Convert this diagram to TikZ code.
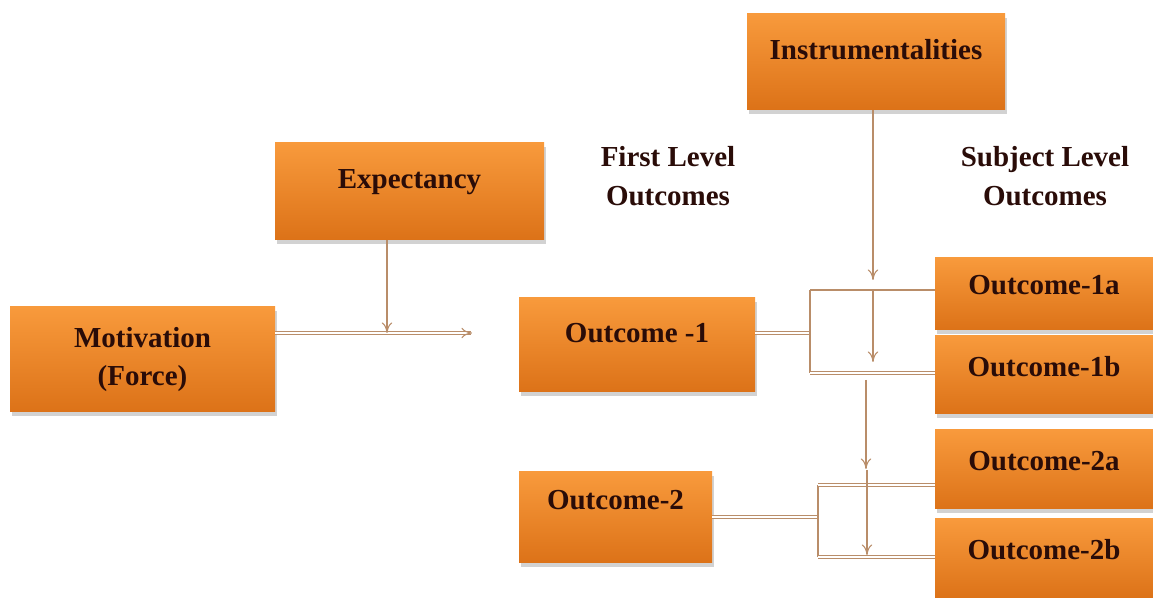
\documentclass[tikz,border=0pt]{standalone}
\usepackage{fontspec}
\setmainfont{Liberation Serif}
\usetikzlibrary{arrows.meta,shadows,calc}
\definecolor{boxtop}{HTML}{F89A3C}
\definecolor{boxbot}{HTML}{DC7218}
\definecolor{linkclr}{HTML}{B98D69}
\definecolor{txtclr}{HTML}{2A0C08}
\begin{document}
\begin{tikzpicture}[
    box/.style={rectangle, top color=boxtop, bottom color=boxbot, draw=none,
        drop shadow={shadow xshift=1pt, shadow yshift=-2pt, opacity=0.35},
        text=txtclr, font=\fontsize{16.5}{22}\selectfont\bfseries, align=center},
    lbl/.style={text=txtclr, font=\fontsize{16.5}{22}\selectfont\bfseries, align=center},
    link/.style={draw=linkclr, line width=0.6pt},
    dlink/.style={draw=linkclr, double=white, double distance=1pt, line width=0.6pt},
    arr/.style={link, -{To[length=6pt,width=6pt]}}]
    \useasboundingbox[fill=white] (0,0) rectangle (23.06,11.96);
    % boxes
    \node[box, minimum width=5.3cm, minimum height=2.1cm] (mot) at (2.85,4.77) {Motivation\\(Force)};
    \node[box, minimum width=5.38cm, minimum height=1.94cm, text depth=14pt] (exp) at (8.19,8.13) {Expectancy};
    \node[box, minimum width=5.16cm, minimum height=1.92cm, text depth=14pt] (inst) at (17.52,10.72) {Instrumentalities};
    \node[box, minimum width=4.72cm, minimum height=1.88cm, text depth=14pt] (o1) at (12.74,5.06) {Outcome -1};
    \node[box, minimum width=3.86cm, minimum height=1.82cm, text depth=20pt] (o2) at (12.31,1.61) {Outcome-2};
    \node[box, minimum width=4.36cm, minimum height=1.44cm, text depth=10pt] (o1a) at (20.88,6.08) {Outcome-1a};
    \node[box, minimum width=4.36cm, minimum height=1.56cm, text depth=10pt] (o1b) at (20.88,4.46) {Outcome-1b};
    \node[box, minimum width=4.36cm, minimum height=1.58cm, text depth=10pt] (o2a) at (20.88,2.57) {Outcome-2a};
    \node[box, minimum width=4.36cm, minimum height=1.58cm, text depth=10pt] (o2b) at (20.88,0.79) {Outcome-2b};
    % headings
    \node[lbl] (first) at (13.36,8.44) {First Level\\Outcomes};
    \node[lbl] (subj) at (20.9,8.44) {Subject Level\\Outcomes};
    % motivation to outcomes
    \coordinate (mend) at (9.44,5.30);
    \coordinate (ejoin) at (7.74,5.30);
    \draw[dlink, -{To[length=6pt,width=6pt]}] (mot.east |- mend) -- (mend);
    \draw[arr] (exp.south -| ejoin) -- (ejoin);
    % first bracket
    \coordinate (b1t) at (16.2,6.16);
    \coordinate (b1m) at (16.2,5.30);
    \coordinate (b1b) at (16.2,4.50);
    \coordinate (itip) at (17.46,6.36);
    \draw[arr] (inst.south -| itip) -- (itip);
    \draw[dlink] (o1.east |- b1m) -- (b1m);
    \draw[link] (b1t) -- (b1b);
    \draw[link] (b1t) -- (o1a.west |- b1t);
    \draw[dlink] (b1b) -- (o1b.west |- b1b);
    \draw[arr] (17.46,6.16) -- (17.46,4.72);
    \draw[arr] (17.32,4.36) -- (17.32,2.58);
    % second bracket
    \coordinate (b2t) at (16.36,2.26);
    \coordinate (b2m) at (16.36,1.62);
    \coordinate (b2b) at (16.36,0.82);
    \draw[dlink] (o2.east |- b2m) -- (b2m);
    \draw[link] (b2t) -- (b2b);
    \draw[dlink] (b2t) -- (o2a.west |- b2t);
    \draw[dlink] (b2b) -- (o2b.west |- b2b);
    \draw[arr] (17.34,2.56) -- (17.34,0.86);
\end{tikzpicture}
\end{document}
